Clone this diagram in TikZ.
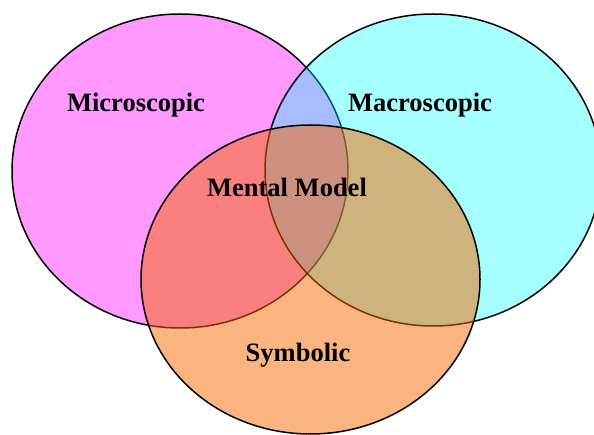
\documentclass[tikz,border=0pt]{standalone}
\usepackage{fontspec}
\setmainfont{Liberation Serif}
\usepackage{tikz}
\usetikzlibrary{positioning}
\definecolor{micro}{HTML}{FF99FF}
\definecolor{macro}{HTML}{00FFFF}
\definecolor{symb}{HTML}{F56900}
\tikzset{
  blob/.style={draw=black, line width=1.5pt, fill=#1},
  lbl/.style={font=\bfseries\fontsize{26.5}{30}\selectfont, color=black, inner sep=0pt},
}
\begin{document}
\begin{tikzpicture}[x=1pt, y=-1pt]
    \useasboundingbox (0,0) rectangle (594,435);
    \clip (0,0) rectangle (594,435);
    \draw[blob=micro] (180,171) ellipse [x radius=168, y radius=157];
    \draw[blob=macro, fill opacity=0.35] (433,170) ellipse [x radius=168, y radius=156];
    \draw[blob=symb, fill opacity=0.5] (310.5,279.5) ellipse [x radius=169.5, y radius=154.5];
    \node[lbl] (micro) at (136,105) {Microscopic};
    \node[lbl] (macro) at (420,105) {Macroscopic};
    \node[lbl] (mental) at (287,187) {Mental Model};
    \node[lbl] (symb) at (298,355) {Symbolic};
  \end{tikzpicture}
\end{document}
